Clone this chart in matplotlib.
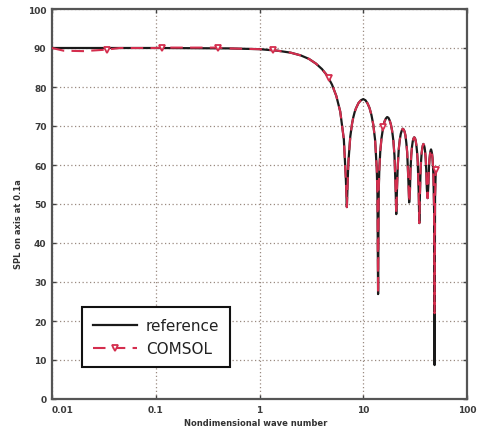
import numpy as np
import matplotlib
matplotlib.use("Agg")
import matplotlib.pyplot as plt

# ---- data ----
ref_ka = [0.01, 0.1, 0.5, 1.0, 1.5, 2.0, 2.5, 3.0, 3.5, 4.0, 4.5, 5.0, 5.5, 6.0, 6.5,
          6.8, 6.95, 7.1, 7.2, 7.5, 7.8, 8.0, 8.25, 8.5, 9.0, 9.5, 10.0, 10.5, 11.0, 11.5,
          12.0, 12.5, 13.0, 13.5, 13.7, 13.9, 14.1, 14.3, 14.6, 15.0, 15.5, 16.0, 16.5,
          17.0, 17.5, 18.0, 18.5, 19.0, 19.5, 20.0, 20.5, 20.8, 21.2, 21.5, 22.0, 22.5,
          23.0, 23.5, 24.0, 24.5, 25.0, 25.5, 26.0, 26.5, 27.2, 27.7, 28.2, 28.5, 29.0,
          29.5, 30.0, 30.5, 31.0, 31.5, 32.0, 32.5, 33.0, 33.5, 34.2, 34.7, 35.2, 35.7,
          36.0, 36.5, 37.0, 37.5, 38.0, 38.5, 39.0, 39.5, 40.0, 40.5, 41.0, 41.7, 42.4,
          43.0, 43.5, 44.0, 44.5, 45.0, 45.5, 46.0, 46.5, 47.0, 47.5, 48.2, 48.7, 49.2, 50.0]
ref_spl = [90.0, 90.0, 89.9, 89.7, 89.3, 88.8, 88.1, 87.2, 86.0, 84.6, 82.9, 80.6, 77.7, 73.7, 66.6,
           56.4, 49.2, 56.9, 61.0, 67.3, 70.6, 72.1, 73.5, 74.5, 75.9, 76.6, 76.9, 76.6, 75.8, 74.6,
           72.8, 70.3, 66.5, 59.0, 52.6, 26.9, 53.6, 59.2, 63.6, 66.9, 69.4, 71.1, 71.9,
           72.3, 72.1, 71.4, 70.3, 68.7, 66.3, 62.4, 54.1, 47.4, 54.8, 59.6, 64.1, 66.5,
           68.0, 68.8, 69.3, 69.1, 68.6, 67.6, 65.7, 63.3, 56.3, 50.4, 53.6, 58.4, 62.4,
           64.7, 66.1, 66.8, 67.1, 66.9, 66.3, 65.1, 63.4, 60.9, 53.5, 45.1, 52.7, 58.6,
           60.6, 62.9, 64.2, 65.0, 65.4, 65.1, 64.5, 63.4, 61.5, 58.7, 54.0, 51.5, 54.7,
           59.4, 61.5, 62.8, 63.6, 64.0, 63.6, 62.9, 61.8, 59.8, 57.0, 48.3, 8.7, 51.7, 58.8]

comsol_ka = [0.01, 0.013, 0.02, 0.03, 0.0336, 0.045, 0.1, 0.116, 0.395, 0.5, 1.0, 1.34, 1.5,
             2.0, 2.5, 3.0, 3.5, 4.0, 4.5, 4.68, 5.0, 5.5, 6.0, 6.5, 6.8, 6.95, 7.1, 7.2, 7.5,
             7.8, 8.0, 8.25, 8.5, 9.0, 9.5, 10.0, 10.5, 11.0, 11.5, 12.0, 12.5, 13.0, 13.5,
             13.7, 13.9, 14.1, 14.3, 14.6, 15.0, 15.5, 15.6, 16.0, 16.5, 17.0, 17.5, 18.0,
             18.5, 19.0, 19.5, 20.0, 20.5, 20.8, 21.2, 21.5, 22.0, 22.5, 23.0, 23.5, 24.0,
             24.5, 25.0, 25.5, 26.0, 26.5, 27.2, 27.7, 28.2, 28.5, 29.0, 29.5, 30.0, 30.5,
             31.0, 31.5, 32.0, 32.5, 33.0, 33.5, 34.2, 34.7, 35.2, 35.7, 36.0, 36.5, 37.0,
             37.5, 38.0, 38.5, 39.0, 39.5, 40.0, 40.5, 41.0, 41.7, 42.4, 43.0, 43.5, 44.0,
             44.5, 45.0, 45.5, 46.0, 46.5, 47.0, 47.5, 48.2, 48.7, 49.2, 50.0]
comsol_spl = [90.0, 89.3, 89.2, 89.5, 89.6, 90.0, 90.0, 90.1, 90.1, 89.9, 89.7, 89.5, 89.3,
              88.8, 88.1, 87.2, 86.0, 84.6, 82.9, 82.2, 80.6, 77.7, 73.7, 66.6, 56.4, 49.2, 56.9, 61.0, 67.3,
              70.6, 72.1, 73.5, 74.5, 75.9, 76.6, 76.9, 76.6, 75.8, 74.6, 72.8, 70.3, 66.5, 59.0,
              52.6, 26.9, 53.6, 59.2, 63.6, 66.9, 69.4, 69.8, 71.1, 71.9, 72.3, 72.1, 71.4,
              70.3, 68.7, 66.3, 62.4, 54.1, 47.4, 54.8, 59.6, 64.1, 66.5, 68.0, 68.8, 69.3,
              69.1, 68.6, 67.6, 65.7, 63.3, 56.3, 50.4, 53.6, 58.4, 62.4, 64.7, 66.1, 66.8,
              67.1, 66.9, 66.3, 65.1, 63.4, 60.9, 53.5, 45.1, 52.7, 58.6, 60.6, 62.9, 64.2,
              65.0, 65.4, 65.1, 64.5, 63.4, 61.5, 58.7, 54.0, 51.5, 54.7, 59.4, 61.5, 62.8,
              63.6, 64.0, 63.6, 62.9, 61.8, 59.8, 57.0, 48.3, 22.0, 51.7, 58.8]
comsol_marker_ka = [0.0336, 0.116, 0.395, 1.34, 4.68, 15.6, 50.0]

x_ticks = [0.01, 0.1, 1, 10, 100]
x_tick_labels = ["0.01", "0.1", "1", "10", "100"]
y_ticks = list(range(0, 101, 10))

# ---- figure ----
fig = plt.figure(figsize=(4.78, 4.35), dpi=100)
ax = fig.add_axes([52/478, 35/435, 415/478, 390/435])

red = "#d42e4e"
ax.plot(ref_ka, ref_spl, color="#1a1a1a", lw=1.6, label="reference", zorder=3)
mark_idx = [int(np.argmin(np.abs(np.array(comsol_ka) - m))) for m in comsol_marker_ka]
ax.plot(comsol_ka, comsol_spl, color=red, lw=1.5, dashes=(6, 3.5), marker="v",
        markersize=5, markerfacecolor="white", markeredgecolor=red, markeredgewidth=1.3,
        markevery=mark_idx, label="COMSOL", zorder=4)

ax.set_xscale("log")
ax.set_xlim(0.01, 100)
ax.set_ylim(0, 100)
ax.set_xticks(x_ticks)
ax.set_xticklabels(x_tick_labels)
ax.xaxis.set_minor_locator(matplotlib.ticker.NullLocator())
ax.set_yticks(y_ticks)

ax.grid(True, which="major", color="#9a8a80", linestyle=(0, (1, 2)), linewidth=0.9)
ax.tick_params(direction="in", length=3, width=1, top=True, right=True,
               labelsize=6.5, labelcolor="#3a3a3a", pad=4, color="#444444")
for lab in ax.get_xticklabels() + ax.get_yticklabels():
    lab.set_fontweight("bold")
ax.get_xticklabels()[0].set_horizontalalignment("left")
for s in ax.spines.values():
    s.set_color("#555555")
    s.set_linewidth(1.6)

ax.set_xlabel("Nondimensional wave number", fontsize=6, color="#333333", fontweight="bold")
ax.set_ylabel("SPL on axis at 0.1a", fontsize=6, color="#333333", fontweight="bold")
ax.xaxis.set_label_coords(0.49, -0.048)
ax.yaxis.set_label_coords(-0.069, 0.45)

leg = ax.legend(loc="lower left", bbox_to_anchor=(0.072, 0.082), borderaxespad=0,
                fontsize=11, handlelength=2.9, frameon=True, fancybox=False,
                edgecolor="#111111", framealpha=1, borderpad=0.7, labelspacing=0.55,
                handletextpad=0.6)
leg.get_frame().set_linewidth(1.5)
for t in leg.get_texts():
    t.set_color("#222222")

fig.savefig("out.png", dpi=100)
